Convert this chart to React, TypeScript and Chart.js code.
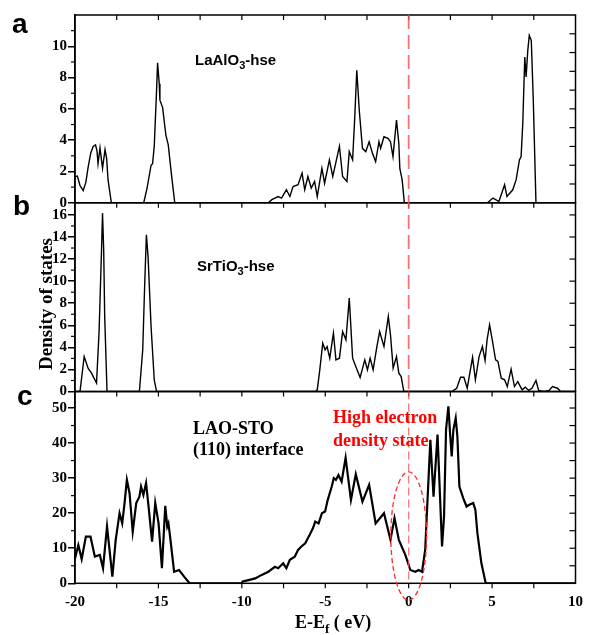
import React, { useEffect, useRef } from "react";
import { Chart, registerables } from "chart.js";

Chart.register(...registerables);

// ---------- data ----------
const xTickLabels = [-20, -15, -10, -5, 0, 5, 10];

// Panel a: LaAlO3-hse
const laoEnergy = [-20, -19.86, -19.7, -19.51, -19.35, -19.21, -19.05, -18.91, -18.77, -18.68, -18.62, -18.5, -18.42, -18.35, -18.2, -18.1, -18.02, -17.82,
  -15.88, -15.68, -15.44, -15.35, -15.25, -15.11, -15.05, -14.98, -14.95, -14.91, -14.75, -14.55, -14.41, -14.25, -14.02,
  -8.41, -8.2, -8.02, -7.82, -7.62, -7.33, -7.12, -6.93, -6.63, -6.39, -6.23, -6.04, -5.84, -5.64, -5.48, -5.2, -5.04, -4.75, -4.55, -4.15, -3.96, -3.7, -3.56, -3.36, -3.23, -3.11, -2.96, -2.77, -2.57, -2.37, -2.17, -1.98, -1.78, -1.68, -1.48, -1.24, -1.09, -0.94, -0.73, -0.59, -0.53, -0.39, -0.26,
  4.72, 5.06, 5.41, 5.75, 5.89, 6.24, 6.44, 6.64, 6.74, 6.84, 6.96, 7.04, 7.14, 7.23, 7.35, 7.47, 7.63, 10];
const laoDos = [1.67, 1.7, 1.1, 0.78, 1.3, 2.3, 3.2, 3.6, 3.7, 3.3, 2.5, 3.5, 2.8, 2.2, 3.4, 2.8, 1.46, 0,
  0, 0.94, 2.4, 2.5, 3.6, 7.2, 8.94, 8.0, 7.6, 6.56, 6.1, 4.3, 3.7, 2.1, 0,
  0, 0.2, 0.3, 0.4, 0.3, 0.83, 0.4, 1.04, 1.15, 1.9, 0.83, 1.68, 0.94, 1.36, 0.4, 2.2, 1.25, 2.74, 1.68, 3.6, 1.68, 1.36, 3.27, 2.74, 5.5, 8.47, 5.9, 3.48, 3.27, 3.9, 3.16, 2.63, 3.9, 3.48, 4.22, 4.12, 3.9, 2.95, 5.29, 3.8, 2.2, 1.46, 0,
  0, 0.3, 0.08, 1.15, 0.4, 0.83, 1.46, 2.74, 2.95, 5.08, 9.32, 8.04, 9.74, 10.7, 10.38, 6.56, 0, 0];

// Panel b: SrTiO3-hse
const stoEnergy = [-20, -19.7, -19.45, -19.21, -19.01, -18.71, -18.56, -18.41, -18.35, -18.28, -18.22, -18.08,
  -16.14, -15.94, -15.82, -15.72, -15.62, -15.44, -15.25, -15.11,
  -5.6, -5.48, -5.34, -5.15, -5.01, -4.89, -4.73, -4.51, -4.36, -4.15, -3.96, -3.76, -3.56, -3.36, -3.17, -2.91, -2.63, -2.47, -2.31, -2.13, -1.92, -1.74, -1.48, -1.22, -1.09, -0.93, -0.73, -0.59, -0.45, -0.29,
  2.58, 2.88, 3.11, 3.31, 3.51, 3.83, 4.0, 4.22, 4.42, 4.58, 4.7, 4.85, 5.01, 5.21, 5.35, 5.55, 5.75, 5.91, 6.14, 6.34, 6.54, 6.8, 6.99, 7.2, 7.39, 7.63, 7.79, 8.12, 8.42, 8.62, 8.92, 9.11, 10];
const stoDos = [0, 0, 3.17, 2.1, 1.66, 0.76, 5.3, 12.8, 16.16, 12.8, 6.8, 0,
  0, 3.78, 9.8, 14.2, 12.2, 5.9, 1.06, 0,
  0, 0.15, 1.8, 4.38, 3.78, 4.08, 3.02, 5.29, 2.87, 3.02, 5.43, 4.68, 8.46, 3.02, 2.26, 1.27, 2.87, 1.97, 3.02, 1.97, 3.93, 5.43, 4.08, 6.8, 5.14, 2.12, 3.17, 1.66, 1.36, 0,
  0, 0.3, 1.3, 1.3, 0.3, 3.1, 1.06, 3.17, 4.08, 2.81, 4.68, 6.04, 4.68, 2.87, 2.72, 1.21, 1.06, 0.45, 2.03, 0.45, 0.9, 0.15, 0.4, 0.1, 0.3, 1.0, 0.1, 0, 0.1, 0.45, 0.3, 0, 0];

// Panel c: LAO-STO (110) interface
const ifcEnergy = [-20, -19.8, -19.6, -19.35, -19.07, -18.81, -18.51, -18.32, -18.08, -17.76, -17.56, -17.33, -17.17, -17.03, -16.89, -16.73, -16.54, -16.33, -16.14, -16.04, -15.9, -15.74, -15.59, -15.38, -15.19, -14.99, -14.79, -14.59, -14.47, -14.4, -14.3, -14.06, -13.76, -13.46, -13.13,
  -10.0, -9.95, -9.6, -9.2, -8.81, -8.41, -8.02, -7.82, -7.52, -7.33, -7.12, -6.83, -6.63, -6.43, -6.2, -5.94, -5.74, -5.6, -5.4, -5.2, -5.01, -4.85, -4.61, -4.49, -4.36, -4.21, -4.02, -3.78, -3.46, -3.17, -2.77, -2.37, -1.98, -1.48, -1.09, -0.85, -0.59, -0.2, 0.1, 0.4, 0.6, 0.8, 0.99, 1.3, 1.49, 1.73, 2.0, 2.12, 2.24, 2.38, 2.48, 2.58, 2.68, 2.82, 2.92, 3.04, 3.27, 3.47, 3.63, 3.87, 4.0, 4.12, 4.36, 4.62, 10];
const ifcDos = [7.1, 10.9, 6.9, 13.3, 13.3, 7.6, 8.1, 4.3, 16.2, 1.9, 12.4, 20.0, 17.1, 22.9, 29.5, 25.7, 14.7, 22.9, 24.7, 27.6, 25.2, 28.6, 21.9, 11.9, 22.9, 17.1, 4.3, 22.1, 16.2, 17.1, 13.3, 3.3, 3.8, 1.9, 0,
  0, 0.5, 0.9, 1.4, 2.4, 3.3, 4.7, 4.3, 5.7, 4.3, 6.7, 7.6, 9.5, 10.5, 11.4, 13.8, 15.7, 17.6, 17.1, 20.0, 20.5, 23.8, 27.6, 30.0, 29.5, 30.9, 29.0, 35.8, 23.8, 31.1, 23.3, 28.1, 17.1, 20.0, 12.4, 18.6, 12.4, 8.1, 3.8, 3.3, 3.8, 3.3, 9.5, 40.9, 24.7, 42.4, 10.5, 19.0, 43.8, 50.5, 42.9, 36.2, 43.8, 47.1, 41.9, 27.6, 24.3, 21.9, 22.4, 22.9, 20.9, 14.3, 5.7, 0, 0];

// ---------- helpers ----------
const SERIF = "'Liberation Serif', 'Times New Roman', serif";
const SANS = "'Liberation Sans', Arial, sans-serif";

const toPoints = (xs: number[], ys: number[]) => xs.map((x, i) => ({ x, y: ys[i] }));

function drawParts(ctx: CanvasRenderingContext2D, parts: { t: string; sub?: boolean }[], x: number, y: number, size: number, family: string, color: string) {
  let cx = x;
  ctx.fillStyle = color;
  ctx.textAlign = "left";
  ctx.textBaseline = "alphabetic";
  for (const p of parts) {
    const fs = p.sub ? Math.round(size * 0.72) : size;
    ctx.font = `bold ${fs}px ${family}`;
    ctx.fillText(p.t, cx, p.sub ? y + size * 0.28 : y);
    cx += ctx.measureText(p.t).width;
  }
}

const decorPlugin = {
  id: "decor",
  afterDraw(chart: any) {
    const ctx: CanvasRenderingContext2D = chart.ctx;
    const xs = chart.scales.x;
    const panels = [
      { s: chart.scales.yA, minor: [1, 3, 5, 7, 9, 11], rightStep: 1.2 },
      { s: chart.scales.yB, minor: [1, 3, 5, 7, 9, 11, 13, 15], rightStep: 2 },
      { s: chart.scales.yC, minor: [5, 15, 25, 35, 45], rightStep: 5 },
    ];
    const left = chart.chartArea.left;
    const right = chart.chartArea.right;
    ctx.save();
    ctx.strokeStyle = "#000";
    ctx.lineWidth = 1.5;
    ctx.setLineDash([]);
    for (const p of panels) {
      ctx.strokeRect(left, p.s.top, right - left, p.s.bottom - p.s.top);
      ctx.lineWidth = 1.2;
      for (const v of p.minor) {
        const py = p.s.getPixelForValue(v);
        ctx.beginPath();
        ctx.moveTo(left - 4, py);
        ctx.lineTo(left, py);
        ctx.stroke();
      }
      for (let v = p.rightStep; v < p.s.max - 0.01; v += p.rightStep) {
        const py = p.s.getPixelForValue(v);
        ctx.beginPath();
        ctx.moveTo(right - 6, py);
        ctx.lineTo(right, py);
        ctx.stroke();
      }
      ctx.lineWidth = 1.5;
    }
    const bounds = [panels[0].s.top, panels[0].s.bottom, panels[1].s.bottom, panels[2].s.bottom];
    ctx.lineWidth = 1.2;
    for (let v = -17.5; v < 10; v += 2.5) {
      const px = xs.getPixelForValue(v);
      for (const b of bounds) {
        ctx.beginPath();
        ctx.moveTo(px, b);
        ctx.lineTo(px, b + 5);
        ctx.stroke();
      }
    }
    const x0 = xs.getPixelForValue(0);
    ctx.strokeStyle = "rgba(240,90,90,0.85)";
    ctx.lineWidth = 1.8;
    ctx.setLineDash([14, 6]);
    ctx.beginPath();
    ctx.moveTo(x0, panels[0].s.top);
    ctx.lineTo(x0, panels[1].s.bottom);
    ctx.stroke();
    ctx.lineWidth = 1.2;
    ctx.setLineDash([8, 4]);
    ctx.beginPath();
    ctx.moveTo(x0, panels[1].s.bottom);
    ctx.lineTo(x0, panels[2].s.bottom);
    ctx.stroke();
    const yc = panels[2].s;
    const cx = xs.getPixelForValue(0);
    const cy = yc.getPixelForValue(13.5);
    const rx = xs.getPixelForValue(1.07) - cx;
    const ry = cy - yc.getPixelForValue(13.5 + 18.3);
    ctx.strokeStyle = "#ff2a2a";
    ctx.lineWidth = 1.3;
    ctx.setLineDash([5, 3]);
    ctx.beginPath();
    ctx.ellipse(cx, cy, rx, ry, 0, 0, Math.PI * 2);
    ctx.stroke();
    ctx.setLineDash([]);

    ctx.fillStyle = "#000";
    ctx.font = `bold 28px ${SANS}`;
    ctx.textAlign = "left";
    ctx.textBaseline = "alphabetic";
    ctx.fillText("a", 12, 33);
    ctx.fillText("b", 13, 215);
    ctx.fillText("c", 17, 405);

    drawParts(ctx, [{ t: "LaAlO" }, { t: "3", sub: true }, { t: "-hse" }], 195, 65, 15, SANS, "#000");
    drawParts(ctx, [{ t: "SrTiO" }, { t: "3", sub: true }, { t: "-hse" }], 197, 271, 15, SANS, "#000");
    drawParts(ctx, [{ t: "LAO-STO" }], 193, 434, 18, SERIF, "#000");
    drawParts(ctx, [{ t: "(110) interface" }], 193, 455, 18, SERIF, "#000");
    drawParts(ctx, [{ t: "High electron" }], 333, 423, 18, SERIF, "#ff0000");
    drawParts(ctx, [{ t: "density state" }], 333, 446, 18, SERIF, "#ff0000");
    drawParts(ctx, [{ t: "E-E" }, { t: "f", sub: true }, { t: " ( eV)" }], 295, 628, 18, SERIF, "#000");
    ctx.save();
    ctx.translate(47, 304);
    ctx.rotate(-Math.PI / 2);
    ctx.font = `bold 19px ${SERIF}`;
    ctx.fillStyle = "#000";
    ctx.textAlign = "center";
    ctx.textBaseline = "middle";
    ctx.fillText("Density of states", 0, 0);
    ctx.restore();
    ctx.restore();
  },
};

const tickFont = { family: SERIF, size: 15, weight: "bold" as const };

function yAxis(max: number, step: number, labelMax: number, stackWeight: number, weight: number) {
  return {
    type: "linear" as const,
    position: "left" as const,
    stack: "dos",
    stackWeight,
    weight,
    min: 0,
    max,
    ticks: { stepSize: step, font: tickFont, color: "#000", padding: 1, autoSkip: false, callback: (v: any) => String(v) },
    afterBuildTicks: (s: any) => {
      const vals: number[] = [];
      for (let v = 0; v <= labelMax + 1e-9; v += step) vals.push(v);
      s.ticks = vals.map((v) => ({ value: v }));
    },
    grid: { drawOnChartArea: false, drawTicks: true, tickLength: 7, color: "#000", lineWidth: 1.5 },
    border: { display: true, color: "#000", width: 1.5 },
    afterFit: (s: any) => {
      s.width = 75;
    },
  };
}

export default function App() {
  const ref = useRef<HTMLCanvasElement | null>(null);
  useEffect(() => {
    if (!ref.current) return;
    const chart = new Chart(ref.current, {
      type: "line",
      data: {
        datasets: [
          { data: toPoints(laoEnergy, laoDos), yAxisID: "yA", borderColor: "#000", borderWidth: 1.4, pointRadius: 0, tension: 0, fill: false },
          { data: toPoints(stoEnergy, stoDos), yAxisID: "yB", borderColor: "#000", borderWidth: 1.4, pointRadius: 0, tension: 0, fill: false },
          { data: toPoints(ifcEnergy, ifcDos), yAxisID: "yC", borderColor: "#000", borderWidth: 2.2, pointRadius: 0, tension: 0, fill: false },
        ],
      },
      options: {
        animation: false,
        responsive: false,
        devicePixelRatio: 1,
        layout: { padding: { top: 15, left: 0, right: 13, bottom: 0 } },
        plugins: { legend: { display: false }, tooltip: { enabled: false } },
        scales: {
          x: {
            type: "linear",
            position: "bottom",
            min: -20,
            max: 10,
            afterBuildTicks: (s: any) => {
              s.ticks = xTickLabels.map((v) => ({ value: v }));
            },
            ticks: { font: tickFont, color: "#000", padding: 10, maxRotation: 0, autoSkip: false, callback: (v: any) => String(v) },
            grid: { display: false, drawTicks: false },
            border: { display: false },
            afterFit: (s: any) => {
              s.height = 51.7;
            },
          },
          yA: yAxis(12, 2, 10, 188, 3),
          yB: yAxis(17.1, 2, 16, 189, 2),
          yC: yAxis(54.7, 10, 50, 192, 1),
        },
      },
      plugins: [decorPlugin],
    });
    return () => chart.destroy();
  }, []);
  return (
    <div style={{ position: "absolute", left: 0, top: 0, width: 593, height: 635, background: "#fff" }}>
      <canvas ref={ref} width={593} height={635} style={{ display: "block" }} />
    </div>
  );
}
